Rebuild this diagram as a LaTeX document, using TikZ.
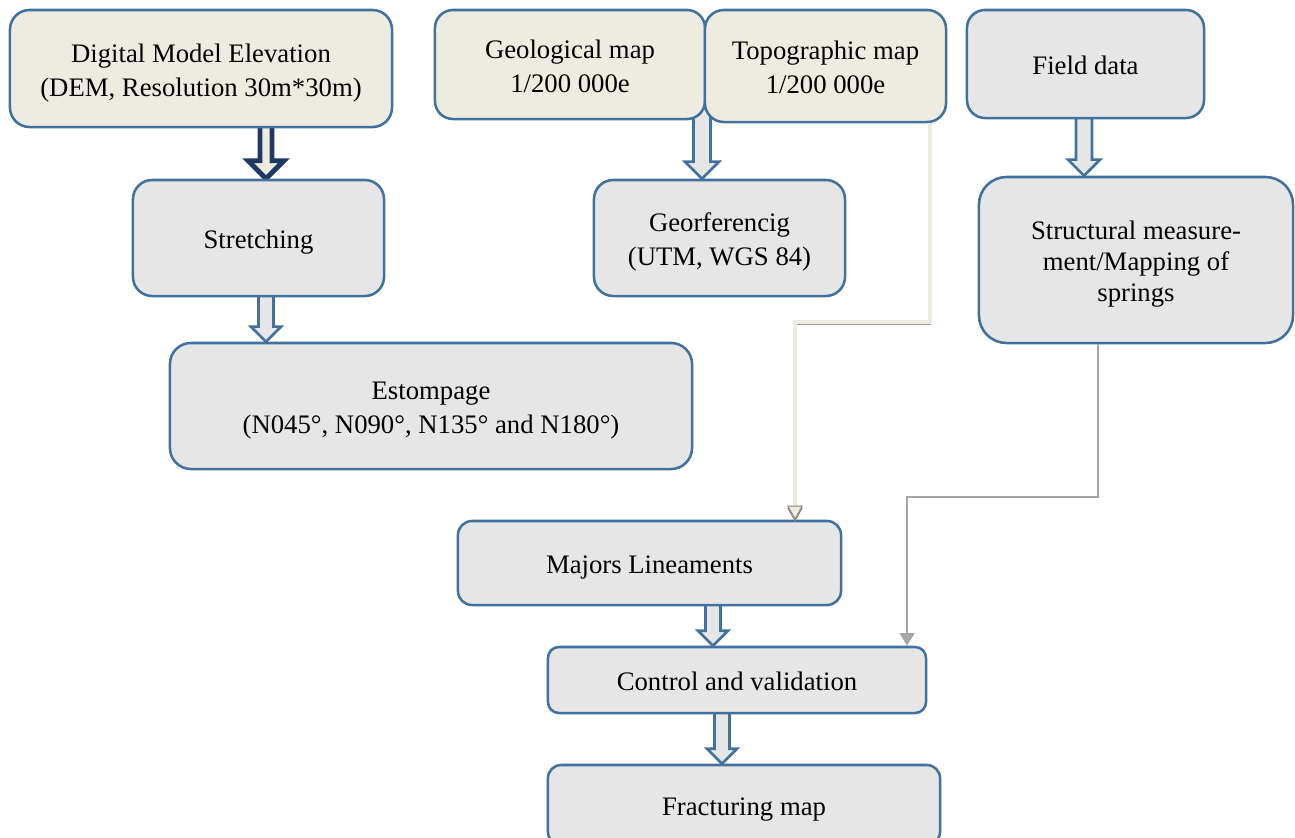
\documentclass[tikz,border=0pt]{standalone}
\usepackage{fontspec}
\setmainfont{Liberation Serif}
\usetikzlibrary{calc, arrows.meta, backgrounds}
\definecolor{boxblue}{RGB}{65,113,156}
\definecolor{navy}{RGB}{31,56,100}
\definecolor{beige}{RGB}{238,236,225}
\definecolor{procgray}{RGB}{230,230,230}
\definecolor{linegray}{RGB}{166,166,166}
\tikzset{
  every node/.style={font=\fontsize{19}{24.2}\selectfont},
  databox/.style={draw=boxblue, line width=1.8pt, fill=beige, align=center, inner sep=0pt,
    text height=19pt, text depth=4pt},
  procbox/.style={databox, fill=procgray},
  twolines/.style={text height=43.2pt},
  threelines/.style={font=\fontsize{19}{22}\selectfont, text height=63pt},
  bigarrow/.style={draw=boxblue, fill=procgray, line width=1.8pt, line join=miter},
  darkarrow/.style={draw=navy, fill=beige, line width=3.5pt, line join=miter},
  beigeline/.style={draw=beige, line width=2.3pt,
    preaction={draw=gray!80, transform canvas={yshift=-1.5pt}},
    -{Triangle[length=10pt, width=11pt, fill=beige, color=gray, line width=0.6pt]}},
  grayline/.style={draw=linegray, line width=1.9pt, -{Triangle[length=9pt, width=10.5pt]}},
}
% block arrow: start, tip, half shaft, half head
\newcommand{\blockarrow}[5][]{%
  \filldraw[#1] ($#2+(-#4,-12)$) -- ($#3+(-#4,-#5)$) -- ($#3+(-#5,-#5)$) -- #3
    -- ($#3+(#5,-#5)$) -- ($#3+(#4,-#5)$) -- ($#2+(#4,-12)$) -- cycle;}

\begin{document}
\begin{tikzpicture}[x=0.025cm, y=-0.025cm]
  \useasboundingbox (0,0) rectangle (1295,837);

  % input data
  \node[databox, twolines, minimum width=9.55cm, minimum height=2.925cm, rounded corners=0.49cm] (dem) at (201,68.5)
    {Digital Model Elevation\\(DEM, Resolution 30m*30m)};
  \node[databox, twolines, minimum width=6.75cm, minimum height=2.725cm, rounded corners=0.45cm] (geo) at (570,64.5)
    {Geological map\\1/200 000e};
  \node[databox, twolines, minimum width=6.025cm, minimum height=2.8cm, rounded corners=0.47cm] (topo) at (825.5,66)
    {Topographic map\\1/200 000e};
  \node[procbox, minimum width=5.925cm, minimum height=2.7cm, rounded corners=0.45cm] (field) at (1085.5,64)
    {Field data};

  % processing
  \node[procbox, minimum width=6.275cm, minimum height=2.9cm, rounded corners=0.48cm] (stretch) at (258.5,238)
    {Stretching};
  \node[procbox, twolines, minimum width=6.275cm, minimum height=2.9cm, rounded corners=0.48cm] (georef) at (719.5,238)
    {Georferencig\\(UTM, WGS 84)};
  \node[procbox, threelines, minimum width=7.85cm, minimum height=4.15cm, rounded corners=0.69cm] (struct) at (1136,260)
    {Structural measure-\\ment/Mapping of\\springs};
  \node[procbox, twolines, minimum width=13.05cm, minimum height=3.15cm, rounded corners=0.525cm] (estomp) at (431,406)
    {Estompage\\(N045°, N090°, N135° and N180°)};
  \node[procbox, minimum width=9.575cm, minimum height=2.1cm, rounded corners=0.35cm] (major) at (649.5,563)
    {Majors Lineaments};
  \node[procbox, minimum width=9.45cm, minimum height=1.65cm, rounded corners=0.275cm] (control) at (737,680)
    {Control and validation};
  \node[procbox, minimum width=9.8cm, minimum height=2cm, rounded corners=0.33cm] (fract) at (744,805)
    {Fracturing map};

  \begin{scope}[on background layer]
    \blockarrow[darkarrow]{(dem.south -| 266,0)}{(stretch.north -| 266,0)}{6}{18}
    \blockarrow[bigarrow]{(geo.south -| 702,0)}{(georef.north -| 702,0)}{8.5}{17}
    \blockarrow[bigarrow]{(field.south -| 1084,0)}{(struct.north -| 1084,0)}{8}{16}
    \blockarrow[bigarrow]{(stretch.south -| 266,0)}{(estomp.north -| 266,0)}{7.5}{15}
    \blockarrow[bigarrow]{(major.south -| 713,0)}{(control.north -| 713,0)}{7.5}{15}
    \blockarrow[bigarrow]{(control.south -| 722,0)}{(fract.north -| 722,0)}{7.5}{15}
  \end{scope}

  \draw[beigeline] (topo.south -| 930,0) -- (930,322) -- (795,322) -- (major.north -| 795,0);
  \draw[grayline] (struct.south -| 1098,0) -- (1098,497) -- (907,497) -- (control.north -| 907,0);
\end{tikzpicture}
\end{document}
